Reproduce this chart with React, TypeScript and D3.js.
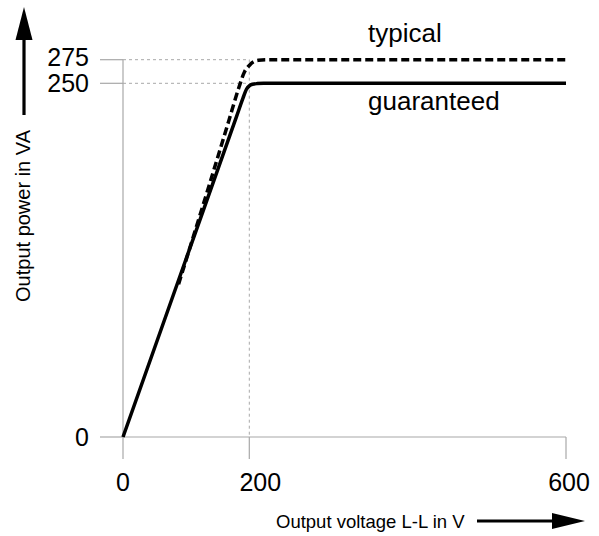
import React from "react";
import * as d3 from "d3";

// ---- data ----
const xTicks = [0, 200, 600];
const yTicks = [0, 250, 275];
const xTickLabels = ["0", "200", "600"];
const yTickLabels = ["0", "250", "275"];

// guaranteed curve (V, VA)
const guaranteedV = [0, 100, 180, 190, 195.5, 200, 204, 210, 218, 600];
const guaranteedVA = [0, 126, 226.8, 239.5, 245.8, 248.2, 249.3, 249.8, 250, 250];

// typical curve (V, VA)
const typicalV = [88, 136.5, 167, 183, 192.5, 200, 205.4, 211.4, 221.5, 600];
const typicalVA = [108, 178, 222.7, 246.3, 262.3, 268.9, 272.9, 274.4, 275, 275];

const xTitle = "Output voltage L-L in V";
const yTitle = "Output power in VA";
const typicalLabel = "typical";
const guaranteedLabel = "guaranteed";
const labelV = 350;

export default function App() {
  const W = 599;
  const H = 536;
  const x = d3.scaleLinear().domain([0, 200, 600]).range([123, 249.3, 566]);
  const y = d3.scaleLinear().domain([0, 250, 275]).range([437, 83.3, 59.7]);

  const line = d3
    .line<[number, number]>()
    .x((d) => x(d[0]))
    .y((d) => y(d[1]))
    .curve(d3.curveMonotoneX);

  const gData: [number, number][] = guaranteedV.map((v, i) => [v, guaranteedVA[i]]);
  const tData: [number, number][] = typicalV.map((v, i) => [v, typicalVA[i]]);

  const gray = "#a8a8a8";
  const font = "Liberation Sans, Arial, Helvetica, sans-serif";
  const x0 = x(0);
  const y0 = y(0);
  const tickLen = 23;
  const xLabelNudge = [0, 11, 3];
  const yLabelNudge = [0, 0, -3];

  return (
    <svg
      width={W}
      height={H}
      style={{ position: "fixed", left: 0, top: 0, background: "#fff" }}
      fontFamily={font}
    >
      <rect width={W} height={H} fill="#fff" />
      {/* gridlines to knee */}
      {yTicks.slice(1).map((t) => (
        <line
          key={"gy" + t}
          x1={x0}
          x2={x(200)}
          y1={y(t)}
          y2={y(t)}
          stroke={gray}
          strokeWidth={1}
          strokeDasharray="3,3"
        />
      ))}
      <line
        x1={x(200)}
        x2={x(200)}
        y1={y(275)}
        y2={y0}
        stroke={gray}
        strokeWidth={1}
        strokeDasharray="3,3"
      />
      {/* y ticks */}
      {yTicks.map((t) => (
        <line key={"yt" + t} x1={x0 - tickLen} x2={x0} y1={y(t)} y2={y(t)} stroke={gray} strokeWidth={1.2} />
      ))}
      {/* x ticks */}
      {xTicks.map((t) => (
        <line key={"xt" + t} x1={x(t)} x2={x(t)} y1={y0} y2={y0 + tickLen - 1} stroke={gray} strokeWidth={1.2} />
      ))}
      {/* axes */}
      <line x1={x0} x2={x(600)} y1={y0} y2={y0} stroke={gray} strokeWidth={1.2} />
      <line x1={x0} x2={x0} y1={y(275)} y2={y0} stroke={gray} strokeWidth={1.2} />

      {/* tick labels */}
      {yTicks.map((t, i) => (
        <text
          key={"yl" + t}
          x={x0 - 34}
          y={y(t) + yLabelNudge[i]}
          dy="0.36em"
          textAnchor="end"
          fontSize={25}
          fill="#000"
        >
          {yTickLabels[i]}
        </text>
      ))}
      {xTicks.map((t, i) => (
        <text key={"xl" + t} x={x(t) + xLabelNudge[i]} y={491} textAnchor="middle" fontSize={25} fill="#000">
          {xTickLabels[i]}
        </text>
      ))}

      {/* curves */}
      <path d={line(gData) || ""} fill="none" stroke="#000" strokeWidth={3.5} strokeLinejoin="round" />
      <path
        d={line(tData) || ""}
        fill="none"
        stroke="#000"
        strokeWidth={3.5}
        strokeDasharray="8,4"
      />
      <text x={x(labelV)} y={y(275) - 18} fontSize={26} fill="#000">
        {typicalLabel}
      </text>
      <text x={x(labelV)} y={y(250) + 27} fontSize={26} fill="#000">
        {guaranteedLabel}
      </text>

      {/* y arrow + title */}
      <line x1={24} x2={24} y1={115} y2={36} stroke="#000" strokeWidth={3.2} />
      <path d="M24,7 L32.5,40 L15.5,40 Z" fill="#000" />
      <text
        transform="translate(30,216) rotate(-90)"
        textAnchor="middle"
        fontSize={20}
        fill="#000"
      >
        {yTitle}
      </text>

      {/* x arrow + title */}
      <text x={276} y={528} fontSize={18.5} fill="#000">
        {xTitle}
      </text>
      <line x1={477} x2={556} y1={521} y2={521} stroke="#000" strokeWidth={3.2} />
      <path d="M585,521 L552,513 L552,529 Z" fill="#000" />
    </svg>
  );
}
